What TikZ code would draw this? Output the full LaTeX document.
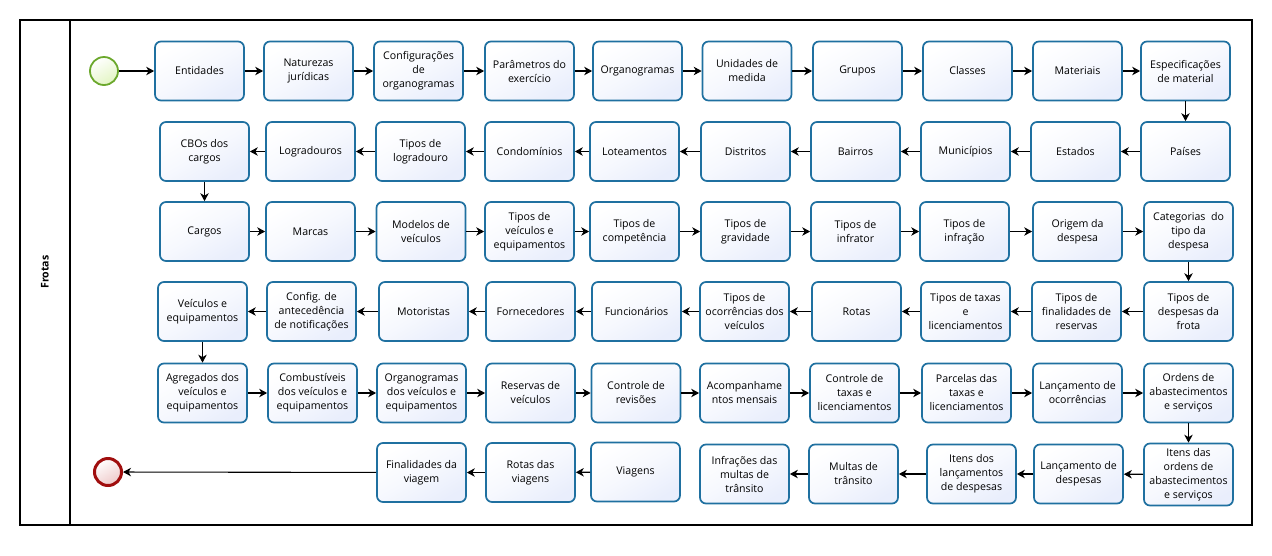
\documentclass[tikz,border=0pt]{standalone}
\usepackage{fontspec}
\setmainfont{Open Sans}
\usetikzlibrary{arrows.meta}
\definecolor{boxline}{HTML}{1F70A0}
\definecolor{boxfill}{HTML}{E9EEFC}
\definecolor{startline}{HTML}{6BA82C}
\definecolor{startfill}{HTML}{E2F5C2}
\definecolor{endline}{HTML}{A00E0E}
\definecolor{endfill}{HTML}{EEC8C8}
\tikzset{
  task/.style={draw=boxline, line width=1.7pt, rounded corners=6pt,
    top color=white, bottom color=boxfill, middle color=boxfill!40!white, shading angle=30,
    minimum width=89pt, minimum height=59pt, align=center,
    font=\fontsize{10.6}{14}\selectfont, inner sep=1pt},
  flow/.style={draw=black, line width=1.1pt, -{Stealth[length=8pt,width=8.5pt,inset=2.5pt]}},
  startev/.style={circle, draw=startline, line width=1.8pt, minimum size=28pt, inner sep=0pt,
    top color=white, bottom color=startfill, shading angle=30},
  endev/.style={circle, draw=endline, line width=3pt, minimum size=27pt, inner sep=0pt,
    top color=white, bottom color=endfill, shading angle=30},
}
\begin{document}
\begin{tikzpicture}[x=1pt,y=-1pt]
\useasboundingbox (0,0) rectangle (1272,555);
\draw[line width=1.2pt] (20,20) rectangle (1252,525);
\draw[line width=1.2pt] (70,20) -- (70,525);
\node[rotate=90, font=\fontsize{10.6}{14}\selectfont\bfseries] (lane) at (45,272) {Frotas};

\node[startev] (start) at (104,71) {};
\node[endev] (end) at (108,472) {};

% Row 1
\node[task] (r1a) at (199.5,71) {Entidades};
\node[task] (r1b) at (308.5,71) {Naturezas\\jurídicas};
\node[task] (r1c) at (418.5,71) {Configurações\\de\\organogramas};
\node[task] (r1d) at (529.5,71) {Parâmetros do\\exercício};
\node[task] (r1e) at (637.5,71) {Organogramas};
\node[task] (r1f) at (747,71) {Unidades de\\medida};
\node[task] (r1g) at (857.5,71) {Grupos};
\node[task] (r1h) at (967.5,71) {Classes};
\node[task] (r1i) at (1077.5,71) {Materiais};
\node[task] (r1j) at (1185.5,71) {Especificações\\de material};
% Row 2
\node[task] (r2j) at (1185.5,151.5) {Países};
\node[task] (r2i) at (1075.5,151.5) {Estados};
\node[task] (r2h) at (965.5,151.5) {Municípios};
\node[task] (r2g) at (855.5,151.5) {Bairros};
\node[task] (r2f) at (745.5,151.5) {Distritos};
\node[task] (r2e) at (634.5,151.5) {Loteamentos};
\node[task] (r2d) at (529.5,151.5) {Condomínios};
\node[task] (r2c) at (420.5,151.5) {Tipos de\\logradouro};
\node[task] (r2b) at (310.5,151.5) {Logradouros};
\node[task] (r2a) at (204.5,151.5) {CBOs dos\\cargos};
% Row 3
\node[task] (r3a) at (204.5,231.5) {Cargos};
\node[task] (r3b) at (310.5,231.5) {Marcas};
\node[task] (r3c) at (421,231.5) {Modelos de\\veículos};
\node[task] (r3d) at (529.5,231.5) {Tipos de\\veículos e\\equipamentos};
\node[task] (r3e) at (634.5,231.5) {Tipos de\\competência};
\node[task] (r3f) at (745.5,231.5) {Tipos de\\gravidade};
\node[task] (r3g) at (855.5,231.5) {Tipos de\\infrator};
\node[task] (r3h) at (964.5,231.5) {Tipos de\\infração};
\node[task] (r3i) at (1077.5,231.5) {Origem da\\despesa};
\node[task] (r3j) at (1188.5,231.5) {Categorias\ \ do\\tipo da\\despesa};
% Row 4
\node[task] (r4j) at (1188.5,311.5) {Tipos de\\despesas da\\frota};
\node[task] (r4i) at (1076.5,311.5) {Tipos de\\finalidades de\\reservas};
\node[task] (r4h) at (965.5,311.5) {Tipos de taxas\\e\\licenciamentos};
\node[task] (r4g) at (856.5,311.5) {Rotas};
\node[task] (r4f) at (744.5,311.5) {Tipos de\\ocorrências dos\\veículos};
\node[task] (r4e) at (636.5,311.5) {Funcionários};
\node[task] (r4d) at (530.5,311.5) {Fornecedores};
\node[task] (r4c) at (423.5,311.5) {Motoristas};
\node[task] (r4b) at (311.5,311.5) {Config. de\\antecedência\\de notificações};
\node[task] (r4a) at (202.5,311.5) {Veículos e\\equipamentos};
% Row 5
\node[task] (r5a) at (202.5,393) {Agregados dos\\veículos e\\equipamentos};
\node[task] (r5b) at (312.5,393) {Combustíveis\\dos veículos e\\equipamentos};
\node[task] (r5c) at (421.5,393) {Organogramas\\dos veículos e\\equipamentos};
\node[task] (r5d) at (530.5,393) {Reservas de\\veículos};
\node[task] (r5e) at (636,393) {Controle de\\revisões};
\node[task] (r5f) at (744.5,393) {Acompanhame\\ntos mensais};
\node[task] (r5g) at (854.5,393) {Controle de\\taxas e\\licenciamentos};
\node[task] (r5h) at (966.5,393) {Parcelas das\\taxas e\\licenciamentos};
\node[task] (r5i) at (1077.5,393) {Lançamento de\\ocorrências};
\node[task] (r5j) at (1188.5,393) {Ordens de\\abastecimentos\\e serviços};
% Row 6
\node[task, minimum height=62pt] (r6j) at (1188.5,474.5) {Itens das\\ordens de\\abastecimentos\\e serviços};
\node[task] (r6i) at (1078.5,474) {Lançamento de\\despesas};
\node[task] (r6h) at (971.5,474) {Itens dos\\lançamentos\\de despesas};
\node[task] (r6g) at (853.5,474) {Multas de\\trânsito};
\node[task] (r6f) at (744.5,474) {Infrações das\\multas de\\trânsito};
\node[task] (r6e) at (635.5,472) {Viagens};
\node[task] (r6d) at (530.5,472.5) {Rotas das\\viagens};
\node[task] (r6c) at (421.5,472.5) {Finalidades da\\viagem};

% Flows
\draw[flow] (start) -- (r1a);
\draw[flow] (r1a) -- (r1b);
\draw[flow] (r1b) -- (r1c);
\draw[flow] (r1c) -- (r1d);
\draw[flow] (r1d) -- (r1e);
\draw[flow] (r1e) -- (r1f);
\draw[flow] (r1f) -- (r1g);
\draw[flow] (r1g) -- (r1h);
\draw[flow] (r1h) -- (r1i);
\draw[flow] (r1i) -- (r1j);
\draw[flow] (r1j) -- (r2j);
\draw[flow] (r2j) -- (r2i);
\draw[flow] (r2i) -- (r2h);
\draw[flow] (r2h) -- (r2g);
\draw[flow] (r2g) -- (r2f);
\draw[flow] (r2f) -- (r2e);
\draw[flow] (r2e) -- (r2d);
\draw[flow] (r2d) -- (r2c);
\draw[flow] (r2c) -- (r2b);
\draw[flow] (r2b) -- (r2a);
\draw[flow] (r2a) -- (r3a);
\draw[flow] (r3a) -- (r3b);
\draw[flow] (r3b) -- (r3c);
\draw[flow] (r3c) -- (r3d);
\draw[flow] (r3d) -- (r3e);
\draw[flow] (r3e) -- (r3f);
\draw[flow] (r3f) -- (r3g);
\draw[flow] (r3g) -- (r3h);
\draw[flow] (r3h) -- (r3i);
\draw[flow] (r3i) -- (r3j);
\draw[flow] (r3j) -- (r4j);
\draw[flow] (r4j) -- (r4i);
\draw[flow] (r4i) -- (r4h);
\draw[flow] (r4h) -- (r4g);
\draw[flow] (r4g) -- (r4f);
\draw[flow] (r4f) -- (r4e);
\draw[flow] (r4e) -- (r4d);
\draw[flow] (r4d) -- (r4c);
\draw[flow] (r4c) -- (r4b);
\draw[flow] (r4b) -- (r4a);
\draw[flow] (r4a) -- (r5a);
\draw[flow] (r5a) -- (r5b);
\draw[flow] (r5b) -- (r5c);
\draw[flow] (r5c) -- (r5d);
\draw[flow] (r5d) -- (r5e);
\draw[flow] (r5e) -- (r5f);
\draw[flow] (r5f) -- (r5g);
\draw[flow] (r5g) -- (r5h);
\draw[flow] (r5h) -- (r5i);
\draw[flow] (r5i) -- (r5j);
\draw[flow] (r5j) -- (r6j);
\draw[flow] (r6j) -- (r6i);
\draw[flow] (r6i) -- (r6h);
\draw[flow] (r6h) -- (r6g);
\draw[flow] (r6g) -- (r6f);
\draw[flow] (r6e) -- (r6d);
\draw[flow] (r6d) -- (r6c);
\draw[flow] (r6c) -- (end);
\end{tikzpicture}
\end{document}
